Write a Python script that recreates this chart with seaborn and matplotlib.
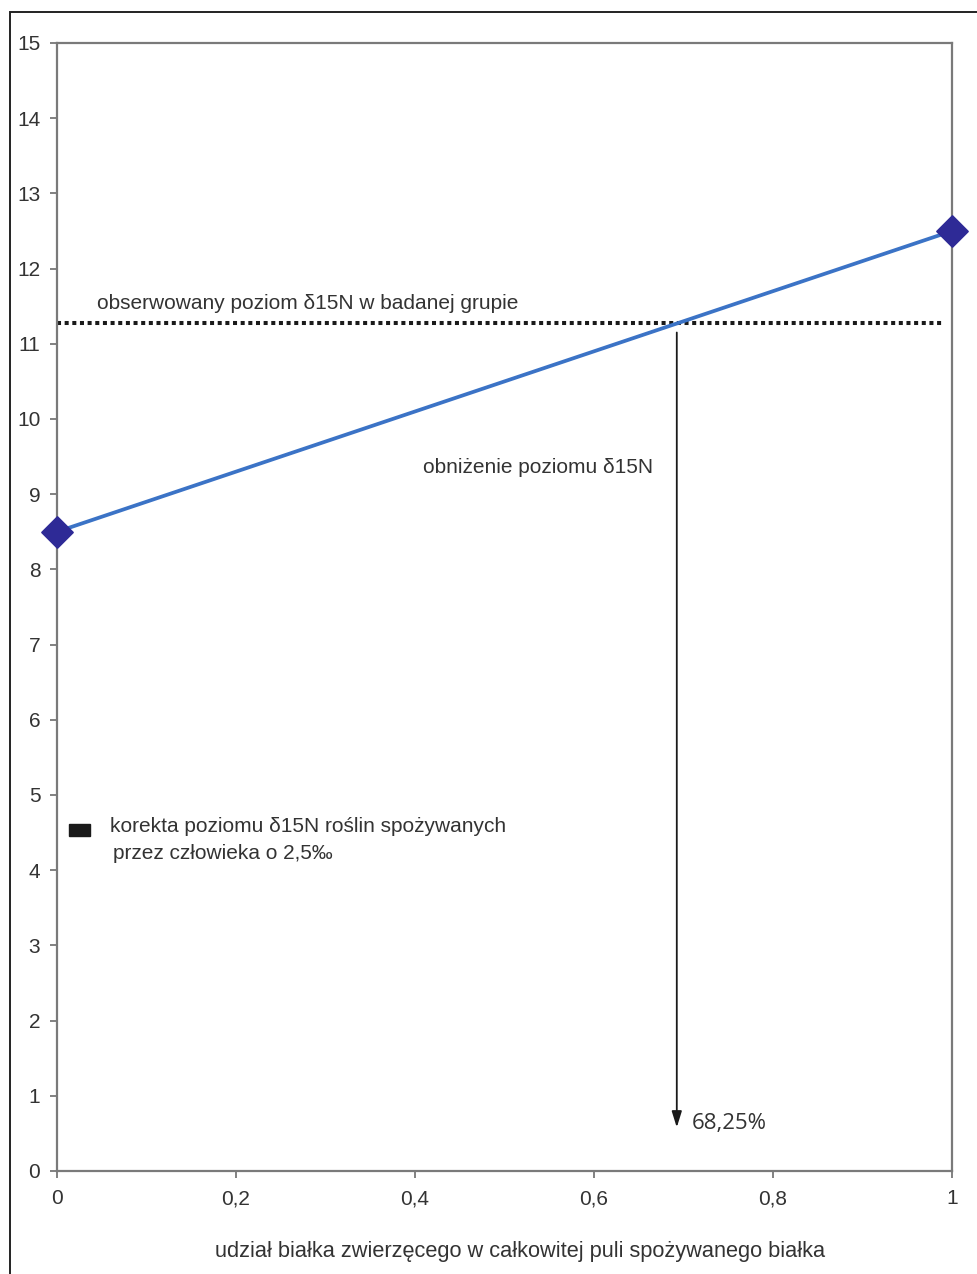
import matplotlib
matplotlib.use("Agg")
import matplotlib.pyplot as plt
import seaborn as sns
import pandas as pd
from matplotlib.patches import Rectangle

# Data
share = [0.0, 1.0]
delta15n = [8.5, 12.5]
observed_level = 11.27
observed_x = [0.0, 0.99]
result_x = 0.6925
arrow_from = 11.15
arrow_to = 0.58
x_ticks = [0, 0.2, 0.4, 0.6, 0.8, 1]
x_tick_labels = ["0", "0,2", "0,4", "0,6", "0,8", "1"]
y_ticks = list(range(0, 16))

sns.set_theme(style="white")
plt.rcParams['font.family'] = ['Liberation Sans', 'DejaVu Sans']

fig = plt.figure(figsize=(9.78, 12.74), dpi=100)
ax = fig.add_axes([57/978, 1-1171/1274, (952-57)/978, (1171-43)/1274])

df = pd.DataFrame({"x": share, "y": delta15n})
sns.lineplot(data=df, x="x", y="y", ax=ax, color="#3B73C6", linewidth=2.7, zorder=3)
sns.scatterplot(data=df, x="x", y="y", ax=ax, marker="D", s=250, color="#2E2A96",
                edgecolor="#2E2A96", zorder=5, clip_on=False)

dotted = pd.DataFrame({"x": observed_x, "y": [observed_level]*2})
sns.lineplot(data=dotted, x="x", y="y", ax=ax, color="#1a1a1a", linewidth=2.9,
             linestyle=(0, (1, 0.9)), zorder=2)

ax.annotate("", xy=(result_x, arrow_to), xytext=(result_x, arrow_from),
            arrowprops=dict(arrowstyle="-|>,head_length=0.8,head_width=0.25",
                            color="#1a1a1a", lw=1.3, shrinkA=0, shrinkB=0))

tc = "#333333"
fs = 15
ax.text(0.045, 11.54, "obserwowany poziom δ15N w badanej grupie", fontsize=fs,
        color=tc, va="center", ha="left")
ax.text(0.409, 9.36, "obniżenie poziomu δ15N", fontsize=fs, color=tc,
        va="center", ha="left")
ax.add_patch(Rectangle((0.013, 4.46), 0.024, 0.16, color="#1a1a1a", zorder=4))
ax.text(0.059, 4.58, "korekta poziomu δ15N roślin spożywanych", fontsize=fs,
        color=tc, va="center", ha="left")
ax.text(0.063, 4.22, "przez człowieka o 2,5‰", fontsize=fs, color=tc,
        va="center", ha="left")
ax.text(0.709, 0.63, "68,25%", fontsize=16, color=tc, va="center", ha="left",
        family=["Open Sans", "DejaVu Sans"])

ax.set_xlim(0, 1)
ax.set_ylim(0, 15)
ax.set_xticks(x_ticks)
ax.set_xticklabels(x_tick_labels)
ax.set_yticks(y_ticks)
ax.set_xlabel("udział białka zwierzęcego w całkowitej puli spożywanego białka",
              fontsize=15.7, color=tc, labelpad=24)
ax.xaxis.label.set_x(0.517)
ax.set_ylabel("")
ax.tick_params(axis="both", which="major", direction="out", length=5, width=1.3,
               color="#777777", labelsize=15, labelcolor=tc,
               bottom=True, left=True)
ax.tick_params(axis="y", pad=7)
ax.tick_params(axis="x", pad=8)
for s in ax.spines.values():
    s.set_color("#7a7a7a")
    s.set_linewidth(1.6)
    s.set_visible(True)

# frame around the figure
fig.patches.append(Rectangle((10/978, -0.05), 1.1, 1-12/1274+0.05,
                             transform=fig.transFigure, fill=False,
                             edgecolor="#222222", linewidth=1.4))

fig.savefig("out.png", dpi=100)
